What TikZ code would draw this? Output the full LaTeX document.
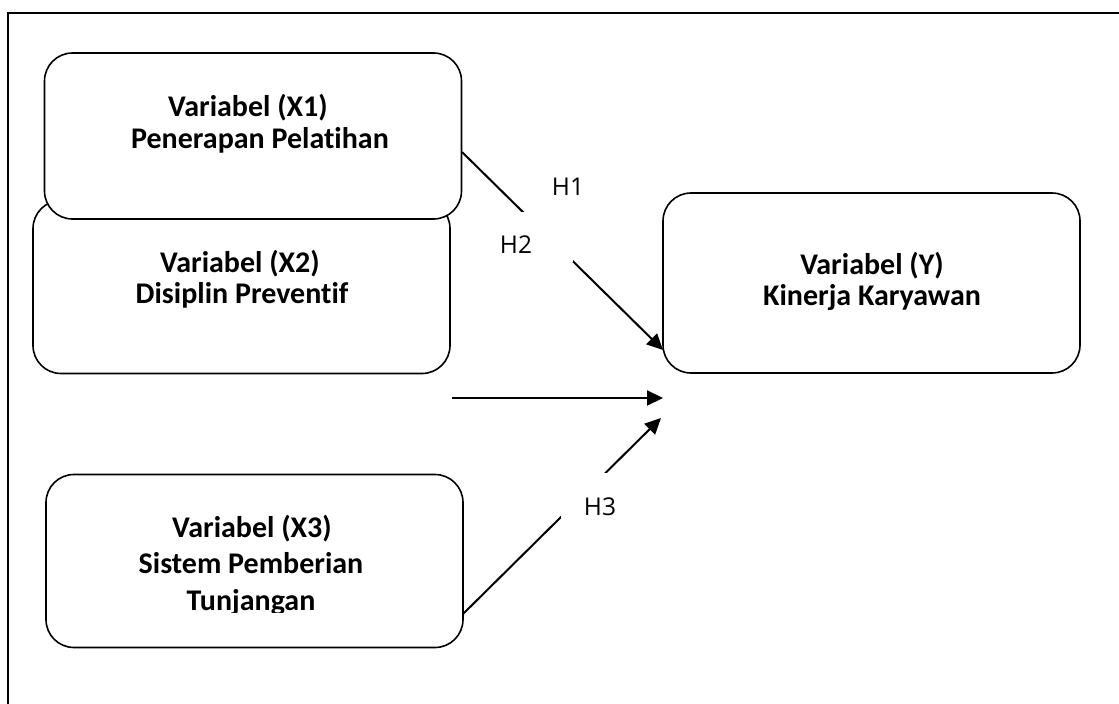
\documentclass[tikz,border=0pt]{standalone}
\usepackage{fontspec}
\setmainfont{Carlito}[Ligatures={NoCommon}]
\newfontfamily\hfont{Open Sans}
\usetikzlibrary{arrows.meta}
\begin{document}
\begin{tikzpicture}[x=1pt,y=-1pt,
  vbox/.style={draw=black, line width=1.6pt, fill=white, rounded corners=28pt, inner sep=0pt},
  vtext/.style={font=\fontsize{30}{32}\selectfont\bfseries, anchor=base, inner sep=0pt},
  conn/.style={line width=2pt, -{Triangle[length=16pt,width=15pt]}},
  hlab/.style={font=\hfont\fontsize{24.5}{26}\selectfont, inner sep=0pt},
  hbox/.style={fill=white, inner sep=0pt}]
\useasboundingbox (0,0) rectangle (1119,704);
\begin{scope}
\clip (0,0) rectangle (1119,704);
\draw[line width=1.8pt] (8,13) rectangle (1140,730);
\end{scope}
% boxes
\node[vbox, minimum width=417pt, minimum height=173pt] (x2) at (241.5,287) {};
\node[vbox, minimum width=417pt, minimum height=166pt] (x1) at (253,136) {};
\node[vbox, minimum width=417pt, minimum height=180pt] (y) at (871.5,283) {};
\node[vbox, minimum width=417pt, minimum height=173pt] (x3) at (254.5,561) {};
% texts
\node[vtext] (t1a) at (248,116) {Variabel (X1)};
\node[vtext] (t1b) at (260,148) {Penerapan Pelatihan};
\node[vtext] (t2a) at (240,272) {Variabel (X2)};
\node[vtext] (t2b) at (242,303) {Disiplin Preventif};
\node[vtext] (tya) at (872,274) {Variabel (Y)};
\node[vtext] (tyb) at (872,305) {Kinerja Karyawan};
\begin{scope}
\clip (60,495) rectangle (450,612);
\node[vtext] (t3a) at (252,537) {Variabel (X3)};
\node[vtext] (t3b) at (251,573) {Sistem Pemberian};
\node[vtext] (t3c) at (251,610) {Tunjangan};
\end{scope}
% connectors
\coordinate (a1) at (462,152);
\coordinate (e1) at (663,350);
\coordinate (a2) at (452,398);
\coordinate (e2) at (663,398);
\coordinate (a3) at (463,614);
\coordinate (e3) at (661,418);
\draw[conn] (a1) -- (e1);
\draw[conn] (a2) -- (e2);
\draw[conn] (a3) -- (e3);
% labels
\node[hlab] (h1) at (568,187) {H1};
\node[hbox, minimum width=75pt, minimum height=50pt] (h2box) at (535.5,237) {};
\begin{scope}
\clip (495,212) rectangle (575,253);
\node[hlab] (h2) at (516,245) {H2};
\end{scope}
\node[hbox, minimum width=80pt, minimum height=60pt] (h3box) at (601,503) {};
\node[hlab] (h3) at (600,507) {H3};
\end{tikzpicture}
\end{document}
